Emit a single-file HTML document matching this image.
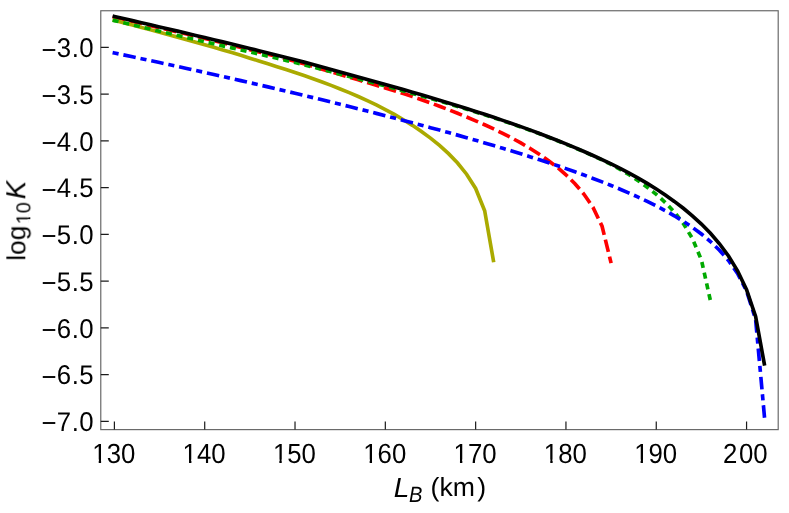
<!DOCTYPE html>
<html><head><meta charset="utf-8"><title>plot</title><style>html,body{margin:0;padding:0;background:#fff}body{width:789px;height:513px;position:relative;overflow:hidden;font-family:"Liberation Sans",sans-serif}</style></head><body>
<svg width="789" height="513" viewBox="0 0 789 513" style="position:absolute;left:0;top:0">
<rect width="789" height="513" fill="#fff"/>
<path d="M112.62 16.80 L114.40 17.22 L123.43 19.31 L132.46 21.40 L141.49 23.50 L150.52 25.60 L159.56 27.71 L168.59 29.83 L177.62 31.95 L186.65 34.08 L195.68 36.22 L204.71 38.36 L213.74 40.56 L222.77 42.82 L231.80 45.12 L240.83 47.42 L249.87 49.70 L258.90 51.99 L267.93 54.28 L276.96 56.59 L285.99 58.94 L295.02 61.33 L304.05 63.84 L313.08 66.46 L322.11 69.13 L331.14 71.82 L340.18 74.51 L349.21 77.19 L358.24 79.87 L367.27 82.56 L376.30 85.27 L385.33 87.97 L394.36 90.71 L403.39 93.57 L412.42 96.58 L421.45 99.68 L430.49 102.90 L439.52 106.22 L448.55 109.68 L457.58 113.27 L466.61 117.00 L475.64 120.83 L484.67 124.79 L493.70 128.96 L502.73 133.35 L511.76 138.00 L520.80 142.95 L529.83 148.25 L538.86 153.96 L547.89 160.18 L556.92 167.03 L565.95 174.78 L574.98 183.69 L584.01 194.25 L593.04 207.53 L602.07 226.21 L611.11 263.18" fill="none" stroke="#ff0000" stroke-width="3.65" stroke-linejoin="miter" stroke-dasharray="12.65 4.88"/>
<path d="M112.63 19.89 L114.40 20.35 L123.43 22.70 L132.46 25.06 L141.49 27.43 L150.52 29.81 L159.56 32.21 L168.59 34.65 L177.62 37.13 L186.65 39.63 L195.68 42.16 L204.71 44.72 L213.74 47.29 L222.77 49.90 L231.80 52.59 L240.83 55.35 L249.87 58.14 L258.90 60.97 L267.93 63.82 L276.96 66.66 L285.99 69.55 L295.02 72.52 L304.05 75.56 L313.08 78.71 L322.11 81.98 L331.14 85.39 L340.18 88.95 L349.21 92.67 L358.24 96.55 L367.27 100.64 L376.30 104.95 L385.33 109.53 L394.36 114.44 L403.39 119.70 L412.42 125.36 L421.45 131.46 L430.49 138.11 L439.52 145.43 L448.55 153.63 L457.58 163.03 L466.61 174.22 L475.64 188.46 L484.67 210.79 L493.70 262.25" fill="none" stroke="#aaaa00" stroke-width="3.65" stroke-linejoin="miter"/>
<path d="M112.62 20.18 L114.40 20.60 L123.43 22.73 L132.46 24.86 L141.49 26.98 L150.52 29.10 L159.56 31.21 L168.59 33.32 L177.62 35.43 L186.65 37.54 L195.68 39.65 L204.71 41.76 L213.74 43.84 L222.77 45.87 L231.80 47.88 L240.83 49.91 L249.87 51.96 L258.90 54.04 L267.93 56.12 L276.96 58.23 L285.99 60.36 L295.02 62.52 L304.05 64.76 L313.08 67.06 L322.11 69.39 L331.14 71.75 L340.18 74.11 L349.21 76.46 L358.24 78.81 L367.27 81.19 L376.30 83.59 L385.33 86.02 L394.36 88.47 L403.39 90.95 L412.42 93.44 L421.45 95.95 L430.49 98.49 L439.52 101.08 L448.55 103.72 L457.58 106.41 L466.61 109.16 L475.64 111.99 L484.67 114.85 L493.70 117.77 L502.73 120.75 L511.76 123.81 L520.80 126.95 L529.83 130.20 L538.86 133.54 L547.89 136.98 L556.92 140.52 L565.95 144.17 L574.98 147.93 L584.01 151.81 L593.04 155.82 L602.07 159.98 L611.11 164.48 L620.14 169.39 L629.17 174.72 L638.20 180.74 L647.23 187.23 L656.26 194.38 L665.29 202.52 L674.32 212.03 L683.35 223.58 L692.38 238.48 L701.41 259.97 L710.45 300.76" fill="none" stroke="#00aa00" stroke-width="3.65" stroke-linejoin="miter" stroke-dasharray="6.05 4.9"/>
<path d="M112.61 52.61 L114.40 52.98 L123.43 54.87 L132.46 56.77 L141.49 58.69 L150.52 60.61 L159.56 62.55 L168.59 64.51 L177.62 66.48 L186.65 68.46 L195.68 70.45 L204.71 72.46 L213.74 74.48 L222.77 76.51 L231.80 78.56 L240.83 80.62 L249.87 82.69 L258.90 84.78 L267.93 86.89 L276.96 89.01 L285.99 91.14 L295.02 93.29 L304.05 95.45 L313.08 97.63 L322.11 99.83 L331.14 102.04 L340.18 104.27 L349.21 106.51 L358.24 108.78 L367.27 111.06 L376.30 113.37 L385.33 115.69 L394.36 118.03 L403.39 120.40 L412.42 122.79 L421.45 125.20 L430.49 127.64 L439.52 130.11 L448.55 132.60 L457.58 135.12 L466.61 137.68 L475.64 140.26 L484.67 142.89 L493.70 145.55 L502.73 148.25 L511.76 151.00 L520.80 153.79 L529.83 156.64 L538.86 159.54 L547.89 162.50 L556.92 165.52 L565.95 168.62 L574.98 171.80 L584.01 175.06 L593.04 178.42 L602.07 181.89 L611.11 185.48 L620.14 189.20 L629.17 193.08 L638.20 197.14 L647.23 201.40 L656.26 205.90 L665.29 210.68 L674.32 215.79 L683.35 221.32 L692.38 227.34 L701.41 234.02 L710.45 241.53 L719.48 250.18 L728.51 260.49 L737.54 273.39 L746.57 290.93 L755.60 319.31 L764.63 418.63" fill="none" stroke="#0000ff" stroke-width="3.65" stroke-linejoin="miter" stroke-dasharray="6.1 4.92 12.55 4.92"/>
<path d="M112.62 16.00 L114.40 16.42 L123.43 18.51 L132.46 20.60 L141.49 22.70 L150.52 24.80 L159.56 26.91 L168.59 29.03 L177.62 31.15 L186.65 33.28 L195.68 35.42 L204.71 37.56 L213.74 39.72 L222.77 41.88 L231.80 44.06 L240.83 46.25 L249.87 48.46 L258.90 50.67 L267.93 52.91 L276.96 55.16 L285.99 57.44 L295.02 59.75 L304.05 62.12 L313.08 64.55 L322.11 67.01 L331.14 69.50 L340.18 71.98 L349.21 74.45 L358.24 76.91 L367.27 79.40 L376.30 81.90 L385.33 84.43 L394.36 86.99 L403.39 89.57 L412.42 92.17 L421.45 94.80 L430.49 97.47 L439.52 100.17 L448.55 102.91 L457.58 105.70 L466.61 108.54 L475.64 111.43 L484.67 114.35 L493.70 117.33 L502.73 120.37 L511.76 123.47 L520.80 126.64 L529.83 129.90 L538.86 133.24 L547.89 136.68 L556.92 140.22 L565.95 143.87 L574.98 147.63 L584.01 151.51 L593.04 155.52 L602.07 159.67 L611.11 163.97 L620.14 168.46 L629.17 173.17 L638.20 178.14 L647.23 183.41 L656.26 189.02 L665.29 195.00 L674.32 201.40 L683.35 208.30 L692.38 215.80 L701.41 224.06 L710.45 233.29 L719.48 243.77 L728.51 255.99 L737.54 270.77 L746.57 289.68 L755.60 316.46 L764.63 365.64" fill="none" stroke="#000000" stroke-width="3.65" stroke-linejoin="miter"/>
<rect x="100.78" y="10.75" width="677.4200000000001" height="418.87" fill="none" stroke="#666666" stroke-width="1.17"/>
<path d="M114.40 429.62 V421.62 M204.71 429.62 V421.62 M295.02 429.62 V421.62 M385.33 429.62 V421.62 M475.64 429.62 V421.62 M565.95 429.62 V421.62 M656.26 429.62 V421.62 M746.57 429.62 V421.62 M100.78 47.30 H108.78 M100.78 94.05 H108.78 M100.78 140.80 H108.78 M100.78 187.55 H108.78 M100.78 234.30 H108.78 M100.78 281.05 H108.78 M100.78 327.80 H108.78 M100.78 374.55 H108.78 M100.78 421.30 H108.78" fill="none" stroke="#1c1c1c" stroke-width="1.2"/>
<g font-family="Liberation Sans, sans-serif" font-size="26.67" fill="#000" text-rendering="geometricPrecision" opacity="0.999">
<text transform="translate(113.80 462.55) scale(0.967 1.04)" text-anchor="middle">130</text>
<text transform="translate(204.11 462.55) scale(0.967 1.04)" text-anchor="middle">140</text>
<text transform="translate(294.42 462.55) scale(0.967 1.04)" text-anchor="middle">150</text>
<text transform="translate(384.73 462.55) scale(0.967 1.04)" text-anchor="middle">160</text>
<text transform="translate(475.04 462.55) scale(0.967 1.04)" text-anchor="middle">170</text>
<text transform="translate(565.35 462.55) scale(0.967 1.04)" text-anchor="middle">180</text>
<text transform="translate(655.66 462.55) scale(0.967 1.04)" text-anchor="middle">190</text>
<text transform="translate(746.87 462.55) scale(0.967 1.04)" text-anchor="middle" dx="-1.6 1.6 0">200</text>
<text transform="translate(0 57.10) scale(0.967 1.015)" x="43.02 58.79 74.15 81.85" dy="1.38 -1.38 0 0">−3.0</text>
<text transform="translate(0 103.84) scale(0.967 1.015)" x="43.02 58.79 74.15 81.85" dy="1.38 -1.38 0 0">−3.5</text>
<text transform="translate(0 150.58) scale(0.967 1.015)" x="43.02 58.79 74.15 81.85" dy="1.38 -1.38 0 0">−4.0</text>
<text transform="translate(0 197.32) scale(0.967 1.015)" x="43.02 58.79 74.15 81.85" dy="1.38 -1.38 0 0">−4.5</text>
<text transform="translate(0 244.06) scale(0.967 1.015)" x="43.02 58.79 74.15 81.85" dy="1.38 -1.38 0 0">−5.0</text>
<text transform="translate(0 290.80) scale(0.967 1.015)" x="43.02 58.79 74.15 81.85" dy="1.38 -1.38 0 0">−5.5</text>
<text transform="translate(0 337.54) scale(0.967 1.015)" x="43.02 58.79 74.15 81.85" dy="1.38 -1.38 0 0">−6.0</text>
<text transform="translate(0 384.28) scale(0.967 1.015)" x="43.02 58.79 74.15 81.85" dy="1.38 -1.38 0 0">−6.5</text>
<text transform="translate(0 431.02) scale(0.967 1.015)" x="43.02 58.79 74.15 81.85" dy="1.38 -1.38 0 0">−7.0</text>
<text transform="translate(393.80 496.50) scale(1.05 1.03)" text-anchor="start" font-style="italic">L</text>
<text transform="translate(409.10 502.30) scale(0.943 1.04)" text-anchor="start" font-style="italic" font-size="21.3">B</text>
<text transform="translate(0 496.2) scale(1 0.985)" x="430.40 439.60 452.73 477.20">(km)</text>
<g transform="translate(25.3 260.7) rotate(-90)"><text transform="translate(0.00 0.00) scale(0.985 0.98)" text-anchor="start">log</text><text transform="translate(36.60 5.00) scale(1.03 1.04)" text-anchor="start" font-size="19.2">10</text><text transform="translate(61.60 0.00) scale(1.034 1.04)" text-anchor="start" font-style="italic">K</text></g>
</g>
<g fill="#fff"><g transform="translate(113.80 462.55) scale(0.967 1.04)"><rect x="-21.42" y="-2.99" width="5.83" height="4.19"/><rect x="-13.14" y="-2.99" width="5.67" height="4.19"/></g><g transform="translate(204.11 462.55) scale(0.967 1.04)"><rect x="-21.42" y="-2.99" width="5.83" height="4.19"/><rect x="-13.14" y="-2.99" width="5.67" height="4.19"/></g><g transform="translate(294.42 462.55) scale(0.967 1.04)"><rect x="-21.42" y="-2.99" width="5.83" height="4.19"/><rect x="-13.14" y="-2.99" width="5.67" height="4.19"/></g><g transform="translate(384.73 462.55) scale(0.967 1.04)"><rect x="-21.42" y="-2.99" width="5.83" height="4.19"/><rect x="-13.14" y="-2.99" width="5.67" height="4.19"/></g><g transform="translate(475.04 462.55) scale(0.967 1.04)"><rect x="-21.42" y="-2.99" width="5.83" height="4.19"/><rect x="-13.14" y="-2.99" width="5.67" height="4.19"/></g><g transform="translate(565.35 462.55) scale(0.967 1.04)"><rect x="-21.42" y="-2.99" width="5.83" height="4.19"/><rect x="-13.14" y="-2.99" width="5.67" height="4.19"/></g><g transform="translate(655.66 462.55) scale(0.967 1.04)"><rect x="-21.42" y="-2.99" width="5.83" height="4.19"/><rect x="-13.14" y="-2.99" width="5.67" height="4.19"/></g><g transform="translate(25.3 260.7) rotate(-90) translate(36.6 5) scale(1.03 1.04)"><rect x="0.26" y="-2.43" width="4.52" height="3.63"/><rect x="6.57" y="-2.43" width="4.42" height="3.63"/></g></g>
</svg>
</body></html>
